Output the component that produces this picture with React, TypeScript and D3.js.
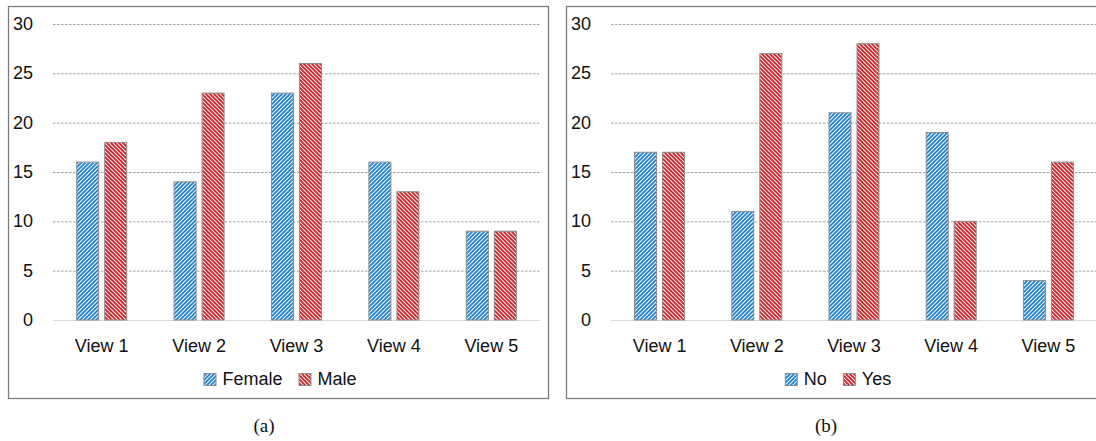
import React from "react";
import * as d3 from "d3";

const categories = ["View 1", "View 2", "View 3", "View 4", "View 5"];
const yTicks = [0, 5, 10, 15, 20, 25, 30];

const femaleValues = [16, 14, 23, 16, 9];
const maleValues = [18, 23, 26, 13, 9];
const noValues = [17, 11, 21, 19, 4];
const yesValues = [17, 27, 28, 10, 16];

const panelA = { series: [{ name: "Female", values: femaleValues, pat: "blueP" }, { name: "Male", values: maleValues, pat: "redP" }] };
const panelB = { series: [{ name: "No", values: noValues, pat: "blueP" }, { name: "Yes", values: yesValues, pat: "redP" }] };

const FONT = "'Liberation Sans', Arial, Helvetica, sans-serif";
const FS = 18;

let ctx: CanvasRenderingContext2D | null = null;
function measure(t: string) {
  if (!ctx) ctx = document.createElement("canvas").getContext("2d");
  if (!ctx) return t.length * 10;
  ctx.font = `${FS}px ${FONT}`;
  return ctx.measureText(t).width;
}

function Panel({ x0, x1, boxLeft, boxRight, labelX, legendCx, captionX, data, caption }: any) {
  const y = d3.scaleLinear().domain([0, 30]).range([320, 24]);
  const xb = d3.scaleBand().domain(categories).range([x0, x1]).paddingInner(0).paddingOuter(0);
  const barW = 22;
  const gap = 6;
  const s = data.series;
  const sq = 12;
  const items = s.map((d: any) => ({ ...d, w: sq + 7 + measure(d.name) }));
  const sep = 16;
  const totalW = items.reduce((a: number, b: any) => a + b.w, 0) + (items.length - 1) * sep;
  let lx = legendCx - totalW / 2;
  const legendItems = items.map((it: any) => {
    const r = { ...it, x: lx };
    lx += it.w + sep;
    return r;
  });
  return (
    <g>
      <rect x={boxLeft + 0.5} y={6.5} width={boxRight - boxLeft} height={392} fill="white" stroke="#7a7a7a" strokeWidth={1.3} />
      {yTicks.map((t) => (
        <g key={t}>
          {t > 0 && (
            <line x1={x0} x2={Math.min(x1, 1096)} y1={y(t) + 0.5} y2={y(t) + 0.5} stroke="#a0a0a0" strokeWidth={1} strokeDasharray="2.5,1.5" />
          )}
          <text x={labelX} y={y(t)} textAnchor="end" dominantBaseline="central" fontFamily={FONT} fontSize={FS} fill="#111">
            {t}
          </text>
        </g>
      ))}
      <line x1={x0} x2={x1} y1={y(0) + 0.5} y2={y(0) + 0.5} stroke="#d9d9d9" strokeWidth={1.2} />
      {categories.map((c, i) => {
        const cx = (xb(c) as number) + xb.bandwidth() / 2;
        return (
          <g key={c}>
            {s.map((ser: any, k: number) => {
              const bx = k === 0 ? cx - gap / 2 - barW : cx + gap / 2;
              const v = ser.values[i];
              return (
                <rect key={ser.name} x={bx} y={y(v)} width={barW} height={y(0) - y(v)} fill={`url(#${ser.pat})`} stroke="#8c8c8c" strokeWidth={1} />
              );
            })}
            <text x={cx} y={352} textAnchor="middle" fontFamily={FONT} fontSize={FS} fill="#111">
              {c}
            </text>
          </g>
        );
      })}
      {legendItems.map((it: any) => (
        <g key={it.name}>
          <rect x={it.x + 0.5} y={373.5} width={sq} height={sq} fill={`url(#${it.pat})`} stroke="#8c8c8c" strokeWidth={1} />
          <text x={it.x + sq + 7} y={385} fontFamily={FONT} fontSize={FS} fill="#111">
            {it.name}
          </text>
        </g>
      ))}
      <text x={captionX} y={432} textAnchor="middle" fontFamily="'Liberation Serif', 'Times New Roman', serif" fontSize={19} fill="#111">
        {caption}
      </text>
    </g>
  );
}

export default function App() {
  return (
    <div style={{ position: "absolute", left: 0, top: 0 }}>
      <svg width={1096} height={441} style={{ display: "block" }}>
        <defs>
          <pattern id="blueP" patternUnits="userSpaceOnUse" width={4} height={4}>
            <rect width={4} height={4} fill="white" />
            <path d="M-1,1 l2,-2 M0,4 l4,-4 M3,5 l2,-2" stroke="#1f82d8" strokeWidth={1.9} />
          </pattern>
          <pattern id="redP" patternUnits="userSpaceOnUse" width={4} height={4}>
            <rect width={4} height={4} fill="white" />
            <path d="M-1,3 l2,2 M0,0 l4,4 M3,-1 l2,2" stroke="#d41e24" strokeWidth={1.9} />
          </pattern>
        </defs>
        <rect width={1096} height={441} fill="white" />
        <Panel x0={53} x1={540} boxLeft={8} boxRight={548} labelX={33} legendCx={280} captionX={264} data={panelA} caption="(a)" />
        <Panel x0={611} x1={1097} boxLeft={566} boxRight={1120} labelX={591} legendCx={838} captionX={826} data={panelB} caption="(b)" />
      </svg>
    </div>
  );
}
